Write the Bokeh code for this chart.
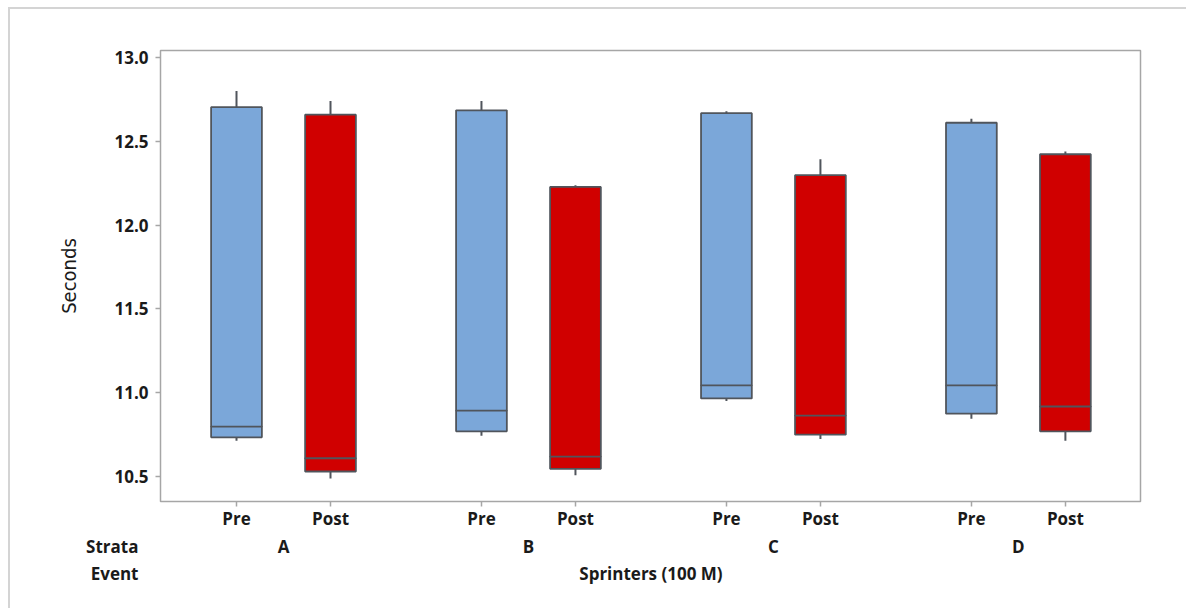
from bokeh.plotting import figure
from bokeh.layouts import column, row
from bokeh.models import ColumnDataSource, FixedTicker, Range1d
from bokeh.embed import file_html
from bokeh.resources import INLINE
from bokeh.core.properties import value

# ---- data ----
strata = ["A", "B", "C", "D"]
events = ["Pre", "Post"]
q1 = {"Pre": [10.734, 10.77, 10.966, 10.875], "Post": [10.53, 10.546, 10.75, 10.77]}
median = {"Pre": [10.798, 10.893, 11.044, 11.044], "Post": [10.609, 10.619, 10.863, 10.918]}
q3 = {"Pre": [12.704, 12.685, 12.668, 12.611], "Post": [12.659, 12.228, 12.298, 12.423]}
lower = {"Pre": [10.714, 10.744, 10.95, 10.845], "Post": [10.488, 10.508, 10.724, 10.714]}
upper = {"Pre": [12.80, 12.74, 12.68, 12.635], "Post": [12.74, 12.238, 12.393, 12.44]}
y_ticks = [10.5, 11.0, 11.5, 12.0, 12.5, 13.0]
event_name = "Sprinters (100 M)"
row_headers = ["Strata", "Event"]
colors = {"Pre": "#7ba7d9", "Post": "#d00000"}

# ---- layout ----
group_step = 2.606      # distance between strata groups (x units)
offset = {"Pre": 0.0, "Post": 1.0}
box_w = 0.54
PX = 94.0               # pixels per x unit
X0 = 236.0              # page x of first box centre

xs, tops, bots, meds, los, his, cols, labs = [], [], [], [], [], [], [], []
for gi, s in enumerate(strata):
    for e in events:
        xs.append(gi * group_step + offset[e])
        tops.append(q3[e][gi]); bots.append(q1[e][gi]); meds.append(median[e][gi])
        los.append(lower[e][gi]); his.append(upper[e][gi]); cols.append(colors[e]); labs.append(e)

src = ColumnDataSource(dict(x=xs, top=tops, bottom=bots, med=meds, lo=los, hi=his, color=cols))

W = 1176
H1, H2 = 523, 76
font = "Open Sans"
fs = "17px"
tcol = "#1a1a1a"

p = figure(width=W, height=H1, output_backend="svg", toolbar_location=None,
           x_range=Range1d((160 - X0) / PX, (1140 - X0) / PX), y_range=Range1d(10.351, 13.042),
           min_border_left=150, min_border_right=46, min_border_top=41, min_border_bottom=30)
p.xgrid.visible = False
p.ygrid.visible = False
p.outline_line_color = "#a6a6a6"
p.outline_line_width = 1.5

line_col = "#50555c"
p.segment(x0="x", y0="top", x1="x", y1="hi", source=src, line_color=line_col, line_width=2)
p.segment(x0="x", y0="lo", x1="x", y1="bottom", source=src, line_color=line_col, line_width=2)
p.vbar(x="x", width=box_w, top="top", bottom="bottom", source=src,
       fill_color="color", line_color=line_col, line_width=1.8)
p.rect(x="x", y="med", width=box_w, height=0.0001, source=src, line_color=line_col, line_width=1.8,
       fill_alpha=0)

# y axis
ya = p.yaxis[0]
ya.ticker = FixedTicker(ticks=y_ticks)
ya.major_label_overrides = {t: f"{t:.1f}" for t in y_ticks}
ya.minor_tick_line_color = None
ya.major_tick_in = 0
ya.major_tick_out = 5
ya.axis_line_color = "#a6a6a6"
ya.major_tick_line_color = "#a6a6a6"
ya.major_tick_line_width = 1.5
ya.major_label_text_font = font
ya.major_label_text_font_style = "bold"
ya.major_label_text_font_size = fs
ya.major_label_text_color = tcol
ya.major_label_standoff = 7
ya.axis_label = "Seconds"
ya.axis_label_text_font = "DejaVu Sans Condensed"
ya.axis_label_text_font_style = "normal"
ya.axis_label_text_font_size = "20px"
ya.axis_label_text_color = tcol
ya.axis_label_standoff = 30

# x axis (Pre / Post)
xa = p.xaxis[0]
xa.ticker = FixedTicker(ticks=xs)
xa.major_label_overrides = {x: l for x, l in zip(xs, labs)}
xa.minor_tick_line_color = None
xa.major_tick_in = 0
xa.major_tick_out = 5
xa.major_tick_line_color = "#a6a6a6"
xa.major_tick_line_width = 1.5
xa.axis_line_color = "#a6a6a6"
xa.major_label_text_font = font
xa.major_label_text_font_style = "bold"
xa.major_label_text_font_size = fs
xa.major_label_text_color = tcol
xa.major_label_standoff = 0

# ---- lower strip: Strata / Event rows ----
row_px = 27.0     # pixels per row
first_row = 14.0  # px from strip top to first row centre
p2 = figure(width=W, height=H2, output_backend="svg", toolbar_location=None,
            x_range=Range1d((10 - X0) / PX, (10 + W - X0) / PX),
            y_range=Range1d((H2 - first_row) / row_px, -first_row / row_px),
            min_border_left=0, min_border_right=0, min_border_top=0, min_border_bottom=0)
p2.axis.visible = False
p2.xgrid.visible = False
p2.ygrid.visible = False
p2.outline_line_color = None

gx = [gi * group_step + 0.5 for gi in range(len(strata))]
mid = (gx[0] + gx[-1]) / 2
hdr_x = (138 - X0) / PX

row_src = ColumnDataSource(dict(x=gx + [mid], y=[0] * len(strata) + [1], t=strata + [event_name]))
p2.text(x="x", y="y", text="t", source=row_src, text_font=value(font), text_font_style="bold",
        text_font_size=fs, text_color=tcol, text_align="center", text_baseline="middle")
hdr_src = ColumnDataSource(dict(x=[hdr_x] * len(row_headers), y=list(range(len(row_headers))),
                                t=row_headers))
p2.text(x="x", y="y", text="t", source=hdr_src, text_font=value(font), text_font_style="bold",
        text_font_size=fs, text_color=tcol, text_align="right", text_baseline="middle")

layout = column(row(p), row(p2), spacing=0)
layout.styles = {"border-top": "2px solid #d4d4d4", "border-left": "2px solid #d4d4d4",
                 "margin": "7px 0 0 8px"}

open("out.html", "w").write(file_html(layout, INLINE))
